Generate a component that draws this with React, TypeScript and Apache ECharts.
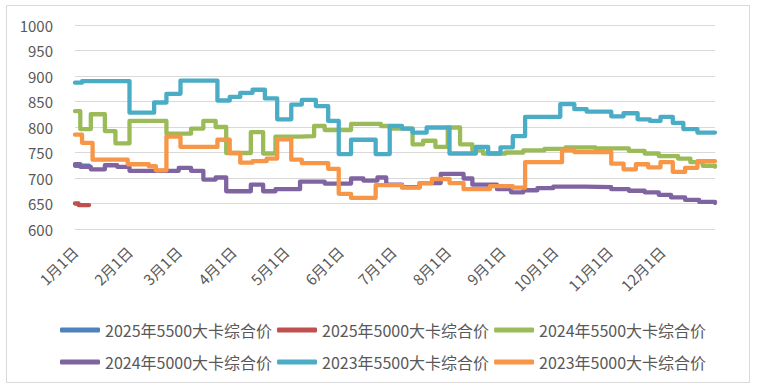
import React, { useEffect, useRef } from "react";
import * as echarts from "echarts";

// ---- categories (month-day labels for a 365-day year) ----
const monthLengths = [31, 28, 31, 30, 31, 30, 31, 31, 30, 31, 30, 31];
const dates: string[] = [];
monthLengths.forEach((len, m) => {
  for (let d = 1; d <= len; d++) dates.push(`${m + 1}月${d}日`);
});
const tickLabels = [
  "1月1日", "2月1日", "3月1日", "4月1日", "5月1日", "6月1日",
  "7月1日", "8月1日", "9月1日", "10月1日", "11月1日", "12月1日",
];

const seriesNames = [
  "2025年5500大卡综合价",
  "2025年5000大卡综合价",
  "2024年5500大卡综合价",
  "2024年5000大卡综合价",
  "2023年5500大卡综合价",
  "2023年5000大卡综合价",
];
const colors = ["#4F81BD", "#C0504D", "#9BBB59", "#8064A2", "#4BACC6", "#F79646"];

// ---- price change points: [dayIndex, price] (value holds until next point) ----
const p2025_5500: [number, number][] = [[0, 724], [8, 722]];
const p2025_5000: [number, number][] = [[0, 650], [2, 647], [8, 647]];
const p2024_5500: [number, number][] = [
  [0, 831], [3, 796], [9, 825], [17, 792], [23, 768], [31, 812], [52, 787],
  [66, 797], [73, 812], [80, 800], [86, 749], [100, 790], [107, 748], [114, 781],
  [128, 782], [136, 802], [142, 794], [157, 806], [174, 802], [179, 797],
  [192, 766], [198, 773], [205, 761], [212, 799], [219, 766], [226, 754],
  [232, 748], [245, 750], [255, 754], [267, 757], [279, 760], [296, 758],
  [315, 753], [324, 748], [332, 743], [343, 738], [350, 731], [357, 724], [364, 722],
];
const p2024_5000: [number, number][] = [
  [0, 727], [3, 722], [9, 717], [17, 725], [24, 722], [31, 714], [59, 720],
  [66, 714], [73, 697], [80, 701], [86, 674], [100, 687], [107, 674], [114, 678],
  [128, 693], [142, 689], [157, 699], [164, 695], [172, 701], [177, 687],
  [186, 682], [196, 690], [208, 708], [221, 699], [226, 687], [240, 678],
  [248, 672], [255, 676], [263, 680], [272, 683], [290, 682], [305, 678],
  [315, 675], [324, 672], [332, 667], [339, 662], [347, 657], [355, 653], [364, 651],
];
const p2023_5500: [number, number][] = [
  [0, 887], [4, 890], [31, 828], [45, 848], [52, 865], [60, 891], [81, 852],
  [88, 859], [94, 867], [101, 873], [108, 856], [115, 815], [123, 844],
  [129, 853], [137, 841], [144, 812], [150, 747], [157, 775], [171, 747],
  [179, 802], [186, 797], [192, 789], [200, 799], [213, 748], [228, 761],
  [235, 748], [242, 760], [249, 782], [256, 820], [276, 845], [284, 835],
  [291, 830], [305, 821], [312, 827], [320, 815], [327, 812], [333, 820],
  [340, 808], [346, 796], [354, 789], [364, 789],
];
const p2023_5000: [number, number][] = [
  [0, 785], [4, 769], [10, 736], [30, 727], [42, 723], [46, 715], [52, 781],
  [60, 761], [81, 775], [88, 749], [94, 730], [101, 733], [109, 738],
  [115, 776], [123, 736], [129, 729], [144, 718], [150, 669], [157, 661],
  [171, 686], [186, 681], [196, 690], [203, 698], [213, 690], [221, 678],
  [236, 684], [249, 681], [256, 731], [277, 754], [284, 751], [305, 728],
  [312, 717], [319, 727], [326, 721], [333, 731], [340, 712], [347, 720],
  [354, 733], [364, 733],
];
const seriesPoints = [p2025_5500, p2025_5000, p2024_5500, p2024_5000, p2023_5500, p2023_5000];

const FONT = "'Noto Sans CJK SC', 'Noto Sans', sans-serif";
const TEXT = "#595959";

export default function App() {
  const ref = useRef<HTMLDivElement>(null);
  useEffect(() => {
    if (!ref.current) return;
    const chart = echarts.init(ref.current, undefined, { renderer: "svg" });
    const legendStyle = {
      left: 55,
      orient: "horizontal" as const,
      icon: "roundRect",
      itemWidth: 40,
      itemHeight: 5,
      itemGap: 5,
      textStyle: { fontSize: 16, color: TEXT, fontFamily: FONT },
    };
    chart.setOption({
      animation: false,
      backgroundColor: "#ffffff",
      textStyle: { fontFamily: FONT },
      grid: { left: 75, right: 42, top: 25, bottom: 157, outerBoundsMode: "none" },
      legend: [
        { ...legendStyle, top: 317, data: seriesNames.slice(0, 3) },
        { ...legendStyle, top: 349, data: seriesNames.slice(3, 6) },
      ],
      graphic: [
        {
          type: "rect",
          shape: { x: 6.5, y: 5.5, width: 743, height: 377 },
          style: { fill: "none", stroke: "#D9D9D9", lineWidth: 1 },
          silent: true,
        },
      ],
      xAxis: {
        type: "category",
        data: dates,
        boundaryGap: false,
        axisLine: { show: false },
        axisTick: { show: false },
        axisLabel: {
          rotate: 45,
          margin: 20,
          fontSize: 15,
          color: TEXT,
          fontFamily: FONT,
          interval: (_i: number, v: string) => tickLabels.includes(v),
        },
      },
      yAxis: {
        type: "value",
        min: 600,
        max: 1000,
        interval: 50,
        axisLine: { show: false },
        axisTick: { show: false },
        axisLabel: {
          fontSize: 15,
          color: TEXT,
          margin: 22,
          fontFamily: FONT,
          formatter: (v: number) => String(v),
        },
        splitLine: { lineStyle: { color: "#D9D9D9", width: 1 } },
      },
      series: seriesNames.map((name, i) => ({
        name,
        type: "line",
        step: "end",
        showSymbol: false,
        symbol: "none",
        color: colors[i],
        lineStyle: { width: 4.3, color: colors[i], cap: "round", join: "round" },
        data: seriesPoints[i].map(([d, v]) => [dates[d], v]),
      })),
    });
    return () => chart.dispose();
  }, []);
  return (
    <div
      ref={ref}
      style={{ position: "fixed", left: 0, top: 0, width: 757, height: 386, background: "#fff" }}
    />
  );
}
